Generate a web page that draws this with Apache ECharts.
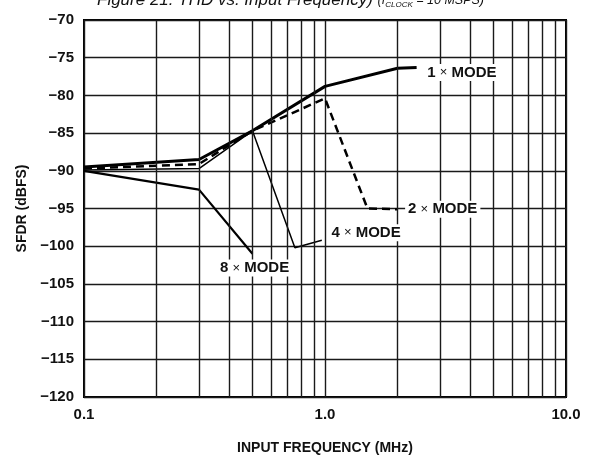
<!DOCTYPE html>
<html>
<head>
<meta charset="utf-8">
<script src="https://cdn.jsdelivr.net/npm/echarts@6/dist/echarts.min.js"></script>
<style>
  html, body { margin: 0; padding: 0; background: #fff; }
  #main { width: 593px; height: 460px; }
</style>
</head>
<body>
<div id="main"></div>
<script>
// readings from the plot, [MHz, dBFS]
var mode1 = [[0.1, -89.5], [0.3, -88.5], [0.5, -84.7], [1.0, -78.8], [2.0, -76.4], [2.4, -76.3]];
var mode2 = [[0.1, -89.7], [0.3, -89.1], [0.5, -84.7], [1.0, -80.4], [1.5, -95.0], [2.0, -95.1]];
var mode4 = [[0.1, -89.9], [0.3, -89.7], [0.5, -84.7], [0.75, -100.2], [0.97, -99.2]];
var mode8 = [[0.1, -90.0], [0.3, -92.5], [0.5, -101.0]];

// minor log gridlines
var minorX = [0.2, 0.3, 0.4, 0.5, 0.6, 0.7, 0.8, 0.9, 2, 3, 4, 5, 6, 7, 8, 9];

// curve labels and where they sit (data space)
var modeNames = ['1', '2', '4', '8'];
var labelAt = [[3.7, -76.95], [3.08, -95.1], [1.48, -98.2], [0.51, -102.9]];

var font = 'Liberation Sans, Arial, Helvetica, sans-serif';
var chart = echarts.init(document.getElementById('main'));

function minus(v) {
  return String(v).replace('-', '\u2212');
}

var option = {
  animation: false,
  title: {
    text: 'Figure 21. THD vs. Input Frequency) {s|(f}{sub|CLOCK}{s| = 10 MSPS)}',
    left: 92,
    top: -13,
    textStyle: {
      fontFamily: font,
      fontSize: 17,
      fontStyle: 'italic',
      fontWeight: 'normal',
      color: '#111',
      rich: {
        s: { fontFamily: font, fontSize: 12.5, fontStyle: 'italic', color: '#111' },
        sub: { fontFamily: font, fontSize: 8, fontStyle: 'italic', color: '#111', verticalAlign: 'bottom', padding: [6, 0, 0, 0] }
      }
    }
  },
  grid: {
    left: 84,
    right: 27,
    top: 20,
    bottom: 56,
    show: true,
    borderColor: '#000',
    borderWidth: 2,
    backgroundColor: 'transparent'
  },
  xAxis: {
    type: 'log',
    logBase: 10,
    min: 0.1,
    max: 10,
    name: 'INPUT FREQUENCY (MHz)',
    nameLocation: 'middle',
    nameGap: 44,
    nameTextStyle: { fontFamily: font, fontSize: 14, fontWeight: 'bold', color: '#111' },
    axisLine: { show: false },
    axisTick: { show: false },
    axisLabel: {
      margin: 10,
      fontFamily: font,
      fontSize: 15,
      fontWeight: 'bold',
      color: '#111',
      formatter: function (v) {
        if (Math.abs(v - 0.1) < 1e-9) return '0.1';
        if (Math.abs(v - 1) < 1e-9) return '1.0';
        if (Math.abs(v - 10) < 1e-9) return '10.0';
        return '';
      }
    },
    splitLine: { show: true, lineStyle: { color: '#1a1a1a', width: 1.4 } }
  },
  yAxis: {
    type: 'value',
    min: -120,
    max: -70,
    interval: 5,
    name: 'SFDR (dBFS)',
    nameLocation: 'middle',
    nameGap: 50,
    nameRotate: 90,
    nameTextStyle: { fontFamily: font, fontSize: 14, fontWeight: 'bold', color: '#111' },
    axisLine: { show: false },
    axisTick: { show: false },
    axisLabel: {
      margin: 10,
      fontFamily: font,
      fontSize: 15,
      fontWeight: 'bold',
      color: '#111',
      formatter: minus
    },
    splitLine: { show: true, lineStyle: { color: '#1a1a1a', width: 1.4 } }
  },
  series: [
    {
      // minor vertical grid
      type: 'line',
      data: [],
      z: 1,
      silent: true,
      markLine: {
        silent: true,
        symbol: ['none', 'none'],
        label: { show: false },
        lineStyle: { color: '#1a1a1a', width: 1.4, type: 'solid' },
        data: minorX.map(function (v) { return { xAxis: v }; })
      }
    },
    {
      name: '8x', type: 'line', data: mode8, z: 3,
      symbol: 'none', lineStyle: { color: '#000', width: 2.2 }
    },
    {
      name: '4x', type: 'line', data: mode4, z: 3,
      symbol: 'none', lineStyle: { color: '#000', width: 1.5 }
    },
    {
      name: '2x', type: 'line', data: mode2, z: 3,
      symbol: 'none', lineStyle: { color: '#000', width: 2.5, type: [8, 5] }
    },
    {
      name: '1x', type: 'line', data: mode1, z: 3,
      symbol: 'none', lineStyle: { color: '#000', width: 3 }
    },
    {
      // curve labels
      type: 'line',
      data: [],
      z: 5,
      markPoint: {
        silent: true,
        symbol: 'circle',
        symbolSize: 1,
        itemStyle: { color: 'rgba(0,0,0,0)' },
        label: {
          show: true,
          position: 'inside',
          backgroundColor: '#fff',
          padding: [1, 3],
          formatter: function (p) { return '{b|' + p.name + ' }{x|\u00d7}{b| MODE}'; },
          rich: {
            b: { fontFamily: font, fontSize: 15, fontWeight: 'bold', color: '#111' },
            x: { fontFamily: font, fontSize: 13, fontWeight: 'normal', color: '#111' }
          }
        },
        data: modeNames.map(function (n, i) { return { name: n, coord: labelAt[i] }; })
      }
    }
  ]
};

chart.setOption(option);
</script>
</body>
</html>
